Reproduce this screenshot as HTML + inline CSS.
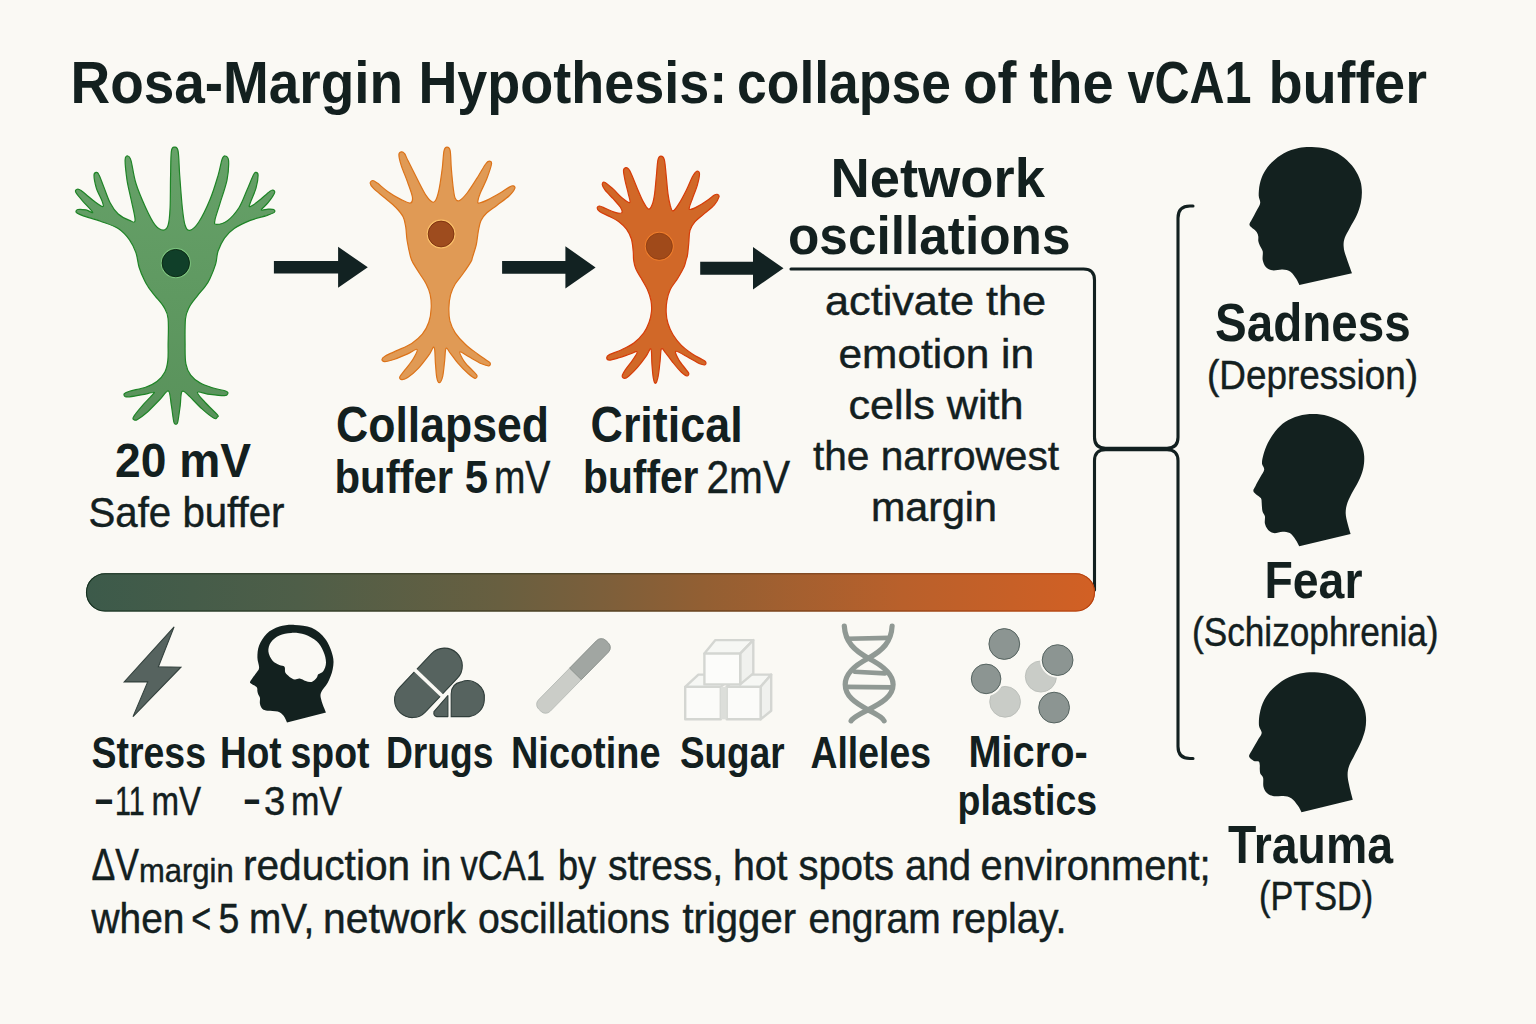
<!DOCTYPE html>
<html lang="en"><head><meta charset="utf-8"><title>Rosa-Margin Hypothesis</title>
<style>
html,body{margin:0;padding:0;background:#faf9f4;}
body{width:1536px;height:1024px;overflow:hidden;}
svg{display:block;position:absolute;left:0;top:0;}
svg text{font-family:"Liberation Sans",sans-serif;fill:#13201f;}
</style></head><body>
<svg width="1536" height="1024" viewBox="0 0 1536 1024">
<defs>
<linearGradient id="bar" x1="0" y1="0" x2="1" y2="0">
<stop offset="0" stop-color="#3c5a4a"/><stop offset="0.21" stop-color="#4e5e48"/><stop offset="0.41" stop-color="#685f40"/><stop offset="0.51" stop-color="#7c5f3b"/><stop offset="0.61" stop-color="#925f33"/><stop offset="0.81" stop-color="#b9602b"/><stop offset="1" stop-color="#d26024"/>
</linearGradient>
<linearGradient id="barS" x1="0" y1="0" x2="1" y2="0">
<stop offset="0" stop-color="#14301f"/><stop offset="0.5" stop-color="#3a3216"/><stop offset="1" stop-color="#b8400c"/>
</linearGradient>
<linearGradient id="gr" x1="0" y1="0" x2="0" y2="1"><stop offset="0" stop-color="#66a168"/><stop offset="1" stop-color="#59925b"/></linearGradient>
</defs>
<rect width="1536" height="1024" fill="#faf9f4"/>
<path d="M174.6 147.1C175.7 147.1 177.3 146.4 178.1 151.1C179.0 155.8 179.0 165.9 179.7 175.3C180.4 184.7 181.4 199.2 182.3 207.5C183.2 215.8 183.8 221.4 185.1 225.2C186.3 229.1 187.6 230.9 189.9 230.4C192.2 229.9 195.4 227.2 198.8 222.0C202.1 216.9 206.8 207.3 210.0 199.5C213.3 191.7 216.1 182.0 218.1 175.3C220.1 168.6 220.9 162.4 222.1 159.2C223.3 156.0 224.3 155.7 225.4 156.0C226.4 156.2 228.3 156.8 228.6 160.8C228.8 164.8 228.4 172.9 227.0 180.1C225.5 187.4 221.7 197.6 219.7 204.3C217.7 211.0 215.4 217.1 214.9 220.4C214.3 223.8 214.3 224.4 216.5 224.4C218.6 224.4 224.0 223.2 227.8 220.4C231.5 217.6 235.8 212.6 239.1 207.5C242.3 202.4 244.7 195.3 247.1 189.8C249.5 184.3 252.1 177.4 253.6 174.5C255.0 171.6 255.2 172.3 256.0 172.4C256.7 172.5 258.1 172.7 258.1 175.3C258.1 177.9 257.3 183.6 256.0 188.2C254.7 192.7 251.4 199.6 250.3 202.7C249.3 205.8 248.5 207.0 249.9 206.7C251.2 206.4 255.1 203.6 258.4 201.1C261.7 198.5 267.3 193.2 269.7 191.4C272.1 189.6 272.1 189.8 272.9 190.1C273.7 190.4 275.3 190.9 274.5 193.0C273.7 195.1 270.3 199.9 268.1 202.7C265.9 205.5 261.3 208.9 261.3 209.9C261.3 211.0 266.0 209.2 268.1 209.1C270.1 209.1 272.7 208.9 273.7 209.5C274.7 210.0 275.4 211.3 274.2 212.4C273.0 213.4 270.4 214.2 266.5 215.6C262.5 216.9 255.7 218.3 250.3 220.4C245.0 222.6 238.5 225.5 234.2 228.5C229.9 231.4 227.2 234.4 224.5 238.1C221.9 241.9 219.6 246.7 218.1 251.0C216.6 255.3 217.0 259.4 215.7 263.9C214.3 268.5 211.8 274.7 210.0 278.4C208.3 282.2 207.4 283.5 205.2 286.4C203.1 289.4 199.8 292.6 197.2 296.1C194.5 299.6 191.0 303.6 189.1 307.4C187.2 311.2 186.2 312.5 185.5 318.7C184.9 324.9 185.0 336.9 185.1 344.5C185.1 352.0 184.9 358.7 185.9 363.8C186.8 368.9 188.3 371.9 190.7 375.1C193.1 378.3 196.6 381.0 200.4 383.1C204.1 385.3 209.0 386.6 213.3 388.0C217.6 389.3 223.7 390.3 226.2 391.2C228.6 392.1 228.0 392.9 227.8 393.6C227.5 394.4 227.5 395.6 224.5 395.7C221.6 395.8 214.6 395.0 210.0 394.4C205.5 393.9 198.3 391.0 197.5 392.3C196.7 393.7 201.9 398.8 205.2 402.5C208.5 406.2 215.3 412.2 217.3 414.6C219.3 417.0 217.8 416.4 217.3 417.0C216.8 417.6 216.6 419.6 214.1 418.3C211.5 416.9 206.1 412.6 202.0 408.9C197.8 405.2 192.4 398.9 189.1 396.0C185.8 393.1 183.5 389.9 182.0 391.5C180.5 393.1 180.9 400.7 180.2 405.7C179.5 410.8 178.5 418.7 177.8 421.8C177.1 424.9 176.5 424.2 175.9 424.2C175.2 424.2 174.5 424.9 173.8 421.8C173.0 418.7 172.3 410.9 171.4 405.7C170.5 400.5 170.3 392.0 168.5 390.9C166.6 389.8 163.6 395.7 160.1 399.3C156.5 402.8 151.0 408.8 147.2 412.2C143.4 415.5 139.7 418.1 137.5 419.4C135.4 420.7 135.0 420.3 134.3 419.9C133.6 419.5 132.2 419.3 133.5 417.0C134.8 414.6 139.1 409.5 142.4 405.7C145.6 401.9 151.0 396.6 152.8 394.4C154.7 392.2 155.1 392.4 153.3 392.5C151.6 392.5 146.3 394.0 142.4 394.7C138.4 395.5 132.4 396.6 129.5 396.8C126.6 397.1 125.8 396.9 125.0 396.4C124.1 395.8 123.6 394.5 124.3 393.6C125.1 392.8 125.9 392.3 129.5 391.2C133.0 390.1 141.0 388.8 145.6 387.2C150.1 385.6 153.6 384.1 156.9 381.5C160.1 379.0 163.1 375.4 164.9 371.9C166.7 368.4 167.3 365.1 167.8 360.6C168.4 356.0 168.1 351.4 168.1 344.5C168.2 337.5 168.8 324.9 168.1 318.7C167.5 312.5 166.3 311.2 164.1 307.4C162.0 303.6 157.9 299.5 155.2 296.1C152.6 292.8 150.3 289.9 148.5 287.3C146.7 284.6 145.8 283.4 144.3 280.0C142.7 276.7 140.5 271.7 139.1 267.2C137.7 262.6 137.5 257.2 135.9 252.6C134.3 248.1 132.4 243.8 129.5 239.8C126.5 235.7 123.0 231.6 118.2 228.5C113.3 225.4 106.4 223.4 100.5 221.2C94.5 219.1 86.8 217.1 82.7 215.6C78.7 214.1 77.1 213.4 76.3 212.4C75.5 211.3 76.3 209.9 77.9 209.5C79.5 209.1 83.5 209.5 86.0 209.9C88.4 210.4 93.3 213.8 92.7 212.4C92.2 210.9 85.5 204.4 82.7 201.1C79.9 197.7 76.7 194.2 75.8 192.2C74.9 190.3 76.2 189.6 77.1 189.3C78.0 189.0 78.3 188.6 81.1 190.6C83.9 192.6 90.4 198.4 94.0 201.1C97.6 203.8 101.4 206.7 102.7 206.7C104.1 206.7 103.1 204.2 102.1 201.1C101.0 198.0 97.8 192.5 96.4 188.2C95.1 183.9 94.0 177.9 94.0 175.3C94.0 172.7 95.6 172.5 96.4 172.4C97.2 172.3 97.6 172.1 98.8 174.5C100.1 176.8 101.8 181.9 103.7 186.6C105.6 191.3 107.7 198.1 110.1 202.7C112.5 207.3 115.0 211.0 118.2 214.0C121.4 216.9 126.6 219.3 129.5 220.4C132.3 221.5 134.8 223.9 135.1 220.4C135.4 216.9 132.4 206.2 131.1 199.5C129.7 192.7 128.0 186.7 127.0 180.1C126.1 173.5 125.0 164.0 125.1 160.0C125.2 156.0 126.9 155.8 127.9 156.0C128.8 156.1 129.7 156.2 131.1 160.8C132.4 165.4 133.5 175.6 135.9 183.3C138.3 191.1 142.4 200.5 145.6 207.5C148.8 214.5 152.3 221.5 155.2 225.2C158.2 229.0 161.2 230.1 163.3 230.1C165.5 230.1 167.0 229.0 168.1 225.2C169.3 221.5 169.7 215.8 170.1 207.5C170.5 199.2 170.3 184.7 170.6 175.3C170.8 165.9 170.7 155.8 171.4 151.1C172.0 146.4 173.5 147.1 174.6 147.1Z" fill="url(#gr)" stroke="#1e8426" stroke-width="1.2" stroke-linejoin="round"/>
<circle cx="175.8" cy="263.1" r="15.1" fill="#7cc57f"/><circle cx="175.8" cy="263.1" r="13.7" fill="#103f29" stroke="#07230f" stroke-width="0.9"/>
<path d="M447.0 147.1C448.1 147.1 449.5 147.4 450.2 150.8C450.9 154.3 450.8 161.8 451.3 168.0C451.8 174.1 452.6 182.7 453.2 187.7C453.9 192.8 454.2 196.1 455.2 198.3C456.2 200.5 457.2 201.6 459.2 200.7C461.2 199.8 464.0 196.9 467.1 193.0C470.2 189.1 474.6 182.0 477.6 177.2C480.7 172.4 483.6 166.7 485.6 164.0C487.5 161.3 488.3 161.1 489.2 161.1C490.2 161.1 491.9 161.1 491.5 164.0C491.1 166.9 488.7 173.7 486.9 178.5C485.0 183.4 481.8 189.3 480.3 193.0C478.8 196.8 478.1 199.3 477.9 200.9C477.7 202.6 477.5 203.3 479.2 203.0C480.9 202.8 484.7 201.3 488.2 199.6C491.7 197.9 496.5 195.1 500.1 193.0C503.6 190.9 507.1 188.3 509.3 187.1C511.5 185.9 512.3 185.6 513.2 185.8C514.2 186.0 515.5 186.8 514.8 188.4C514.2 190.1 512.2 192.9 509.3 195.7C506.4 198.4 501.2 202.0 497.4 204.9C493.7 207.8 489.6 210.2 486.9 212.8C484.1 215.4 482.4 217.6 480.9 220.7C479.5 223.8 479.1 227.3 478.3 231.3C477.5 235.2 477.3 240.1 476.3 244.5C475.3 248.9 473.2 254.8 472.4 257.6C471.5 260.5 472.6 259.0 471.0 261.6C469.5 264.2 465.8 269.7 463.1 273.5C460.5 277.2 457.3 280.5 455.2 284.0C453.1 287.5 451.7 290.6 450.6 294.6C449.6 298.5 449.0 303.4 448.9 307.7C448.8 312.1 448.9 316.8 449.9 320.9C451.0 325.1 452.6 328.8 455.2 332.8C457.9 336.8 462.0 341.2 465.8 344.7C469.5 348.2 474.1 351.3 477.6 353.9C481.2 356.5 484.8 359.0 486.9 360.5C489.0 362.0 489.8 362.3 490.2 363.1C490.5 364.0 490.3 365.7 488.9 365.8C487.4 365.9 485.0 365.3 481.6 363.8C478.2 362.3 472.0 358.5 468.4 356.5C464.8 354.6 460.5 351.0 459.8 351.9C459.2 352.8 462.1 358.5 464.5 361.8C466.8 365.1 471.6 369.4 473.7 371.7C475.8 374.0 476.8 374.6 477.0 375.7C477.2 376.8 476.4 378.6 475.0 378.3C473.6 378.0 471.3 376.2 468.4 373.7C465.6 371.2 460.9 366.7 457.9 363.1C454.8 359.6 451.9 355.0 449.9 352.6C448.0 350.1 446.9 347.0 446.0 348.4C445.1 349.7 445.2 355.8 444.7 360.5C444.1 365.2 443.6 372.6 442.7 376.3C441.8 380.0 440.4 382.4 439.4 382.7C438.4 382.9 437.4 380.9 436.8 377.6C436.1 374.4 435.9 368.2 435.4 363.1C435.0 358.1 435.2 348.6 434.1 347.3C433.0 346.0 431.5 351.7 428.8 355.2C426.2 358.7 421.8 364.7 418.3 368.4C414.8 372.1 410.5 375.8 407.7 377.6C405.0 379.5 403.1 379.7 401.8 379.6C400.5 379.5 399.3 378.6 399.8 377.0C400.4 375.3 402.9 372.7 405.1 369.7C407.3 366.8 411.0 362.6 413.0 359.2C415.0 355.8 417.9 350.3 417.0 349.4C416.1 348.5 411.5 352.3 407.7 353.9C404.0 355.5 398.4 357.9 394.6 359.2C390.7 360.5 386.8 361.6 384.7 361.6C382.6 361.6 381.9 360.1 382.0 359.2C382.1 358.2 382.6 357.4 385.3 355.9C388.1 354.3 394.1 352.0 398.5 349.9C402.9 347.9 407.7 346.0 411.7 343.4C415.7 340.7 419.4 337.6 422.3 334.1C425.1 330.6 427.4 326.7 428.8 322.3C430.3 317.9 431.0 312.4 431.2 307.7C431.4 303.1 431.0 298.5 430.2 294.6C429.3 290.6 428.0 287.5 426.2 284.0C424.5 280.5 421.8 277.0 419.6 273.5C417.4 269.9 414.6 265.8 413.0 262.9C411.5 260.1 411.4 260.1 410.4 256.3C409.4 252.6 407.9 245.3 407.1 240.5C406.3 235.7 406.4 231.3 405.8 227.3C405.1 223.4 404.8 220.1 403.1 216.8C401.5 213.5 398.8 210.6 395.9 207.5C392.9 204.5 389.1 201.5 385.3 198.3C381.6 195.1 376.0 190.9 373.5 188.4C370.9 185.9 370.3 184.5 370.2 183.1C370.1 181.8 371.6 180.5 372.8 180.5C374.0 180.5 374.9 181.3 377.4 183.1C379.9 185.0 384.0 189.0 388.0 191.7C391.9 194.5 397.4 197.7 401.2 199.6C404.9 201.5 408.5 203.5 410.4 203.0C412.3 202.6 412.8 200.4 412.4 197.0C411.9 193.6 409.6 187.7 407.7 182.5C405.9 177.2 402.6 169.9 401.2 165.3C399.7 160.7 398.9 157.0 398.9 154.8C398.9 152.5 400.2 152.1 401.2 151.9C402.1 151.7 403.4 152.1 404.5 153.5C405.6 154.8 405.7 155.9 407.7 160.1C409.8 164.2 413.9 172.6 417.0 178.5C420.1 184.5 423.6 191.7 426.2 195.7C428.8 199.6 431.2 201.6 432.8 202.3C434.5 202.9 435.0 202.0 436.1 199.6C437.2 197.2 438.4 193.0 439.4 187.7C440.4 182.5 441.5 174.1 442.3 168.0C443.1 161.8 443.2 154.3 444.0 150.8C444.8 147.4 446.0 147.1 447.0 147.1Z" fill="#e09a55" stroke="#dc7319" stroke-width="1.2" stroke-linejoin="round"/>
<circle cx="441.1" cy="234" r="14.4" fill="#fbc069"/><circle cx="441.1" cy="234" r="12.9" fill="#9e4c1e" stroke="#7c2e0d" stroke-width="0.9"/>
<path d="M660.9 156.2C662.0 156.2 663.5 156.4 664.3 159.6C665.2 162.9 665.6 169.8 666.2 175.5C666.8 181.2 667.3 188.7 668.0 193.8C668.7 198.9 669.6 203.2 670.4 206.0C671.3 208.9 671.7 211.3 673.1 210.9C674.6 210.5 676.8 207.1 679.0 203.6C681.2 200.1 684.1 194.6 686.3 190.2C688.6 185.7 690.7 179.9 692.4 176.7C694.2 173.6 695.5 171.8 696.7 171.2C697.9 170.7 699.4 171.3 699.5 173.7C699.6 176.0 698.5 181.1 697.3 185.3C696.1 189.5 693.7 195.0 692.4 198.7C691.1 202.4 689.7 205.5 689.4 207.3C689.0 209.0 688.9 209.6 690.2 209.5C691.5 209.4 694.5 208.1 697.3 206.6C700.1 205.2 704.2 202.5 707.1 200.5C709.9 198.6 712.7 196.1 714.4 195.0C716.1 194.0 716.7 194.1 717.4 194.4C718.2 194.7 719.5 195.2 719.0 196.9C718.5 198.6 716.8 202.1 714.4 204.8C712.0 207.6 707.9 210.5 704.6 213.4C701.4 216.2 697.3 219.1 694.9 221.9C692.4 224.8 691.0 227.0 690.0 230.4C689.0 233.9 689.2 238.6 688.8 242.7C688.4 246.7 688.0 252.0 687.5 254.9C687.1 257.8 686.7 257.9 686.1 260.0C685.5 262.1 685.3 264.3 683.9 267.3C682.5 270.4 680.0 274.6 677.8 278.3C675.5 282.0 672.2 285.6 670.4 289.3C668.7 293.0 667.7 296.4 667.0 300.3C666.3 304.1 666.0 308.6 666.2 312.5C666.3 316.4 666.9 319.8 668.0 323.5C669.1 327.1 670.7 330.8 672.9 334.5C675.1 338.1 678.2 342.2 681.4 345.4C684.7 348.7 689.0 351.7 692.4 354.0C695.9 356.3 700.0 358.2 702.2 359.5C704.4 360.8 705.1 361.1 705.6 361.9C706.1 362.8 706.2 364.4 705.2 364.7C704.3 365.0 702.5 364.9 699.7 363.8C697.0 362.6 692.7 359.7 688.8 357.7C684.8 355.6 677.6 350.9 675.9 351.3C674.3 351.7 677.3 357.0 679.0 360.1C680.7 363.2 684.7 367.6 686.3 369.9C687.9 372.1 688.7 372.5 688.8 373.5C688.9 374.5 688.1 376.2 686.9 376.0C685.7 375.8 683.8 374.5 681.4 372.3C679.1 370.1 675.5 365.8 672.9 362.5C670.2 359.3 667.5 355.1 665.6 352.8C663.7 350.5 662.3 347.4 661.4 348.9C660.5 350.3 660.6 356.8 660.1 361.3C659.5 365.8 659.0 372.3 658.2 376.0C657.5 379.6 656.4 382.9 655.6 383.3C654.7 383.7 654.0 381.7 653.4 378.4C652.7 375.2 652.3 368.7 651.9 363.8C651.5 358.8 651.9 350.1 650.9 348.9C649.9 347.6 648.3 353.3 646.0 356.4C643.8 359.5 640.3 364.2 637.5 367.4C634.6 370.7 631.1 374.1 628.9 376.0C626.8 377.8 625.8 378.4 624.7 378.4C623.6 378.4 622.1 377.4 622.2 376.0C622.3 374.5 623.6 372.5 625.3 369.9C627.0 367.2 630.6 363.1 632.6 360.1C634.6 357.1 637.7 352.8 637.2 351.8C636.8 350.8 633.2 353.0 630.2 354.0C627.2 355.0 622.6 356.6 619.2 357.7C615.7 358.7 611.5 360.1 609.4 360.1C607.3 360.1 606.7 358.6 606.7 357.7C606.7 356.7 606.9 355.9 609.4 354.6C611.9 353.3 617.6 351.7 621.6 349.7C625.7 347.8 630.2 345.8 633.8 343.0C637.5 340.3 641.1 336.7 643.6 333.2C646.1 329.8 647.8 325.9 649.1 322.3C650.4 318.6 651.2 314.9 651.5 311.3C651.8 307.6 651.6 303.9 650.9 300.3C650.2 296.6 648.9 293.0 647.3 289.3C645.6 285.6 643.1 281.8 641.2 278.3C639.2 274.9 636.9 271.6 635.7 268.5C634.4 265.5 634.0 262.9 633.6 260.0C633.2 257.1 633.6 254.7 633.2 251.2C632.9 247.7 632.5 242.7 631.4 239.0C630.3 235.3 628.5 232.1 626.5 229.2C624.5 226.4 622.0 224.0 619.2 221.9C616.3 219.8 612.7 218.1 609.4 216.4C606.2 214.7 601.7 213.0 599.6 211.5C597.6 210.1 597.2 208.8 597.2 207.9C597.2 207.0 598.2 205.9 599.6 206.0C601.1 206.1 603.3 207.5 605.8 208.5C608.2 209.5 611.7 211.4 614.3 212.1C616.9 212.9 620.6 213.7 621.6 212.9C622.6 212.1 621.8 209.6 620.4 207.3C619.0 204.9 615.6 201.6 613.1 198.7C610.5 195.9 606.9 192.5 605.1 190.2C603.4 187.8 602.4 186.0 602.3 184.7C602.2 183.4 602.7 181.5 604.5 182.2C606.3 182.9 610.2 186.4 613.1 188.9C615.9 191.5 618.9 195.2 621.6 197.5C624.4 199.8 628.6 203.2 629.7 202.6C630.8 202.0 629.1 197.3 628.3 193.8C627.6 190.3 626.1 185.5 625.3 181.6C624.5 177.8 623.4 173.0 623.5 170.6C623.6 168.3 625.0 167.8 625.9 167.6C626.8 167.4 627.9 168.1 628.9 169.4C630.0 170.7 630.6 172.3 632.0 175.5C633.4 178.8 635.6 184.5 637.5 188.9C639.4 193.4 641.8 199.0 643.6 202.4C645.4 205.7 647.1 208.7 648.5 209.1C649.9 209.5 651.1 207.4 652.1 204.8C653.2 202.3 653.9 198.7 654.6 193.8C655.3 188.9 655.8 181.2 656.4 175.5C657.0 169.8 657.2 162.9 658.0 159.6C658.8 156.4 659.9 156.2 660.9 156.2Z" fill="#d16828" stroke="#d63c08" stroke-width="1.2" stroke-linejoin="round"/>
<circle cx="659.3" cy="246.3" r="14.5" fill="#ee7d2c"/><circle cx="659.3" cy="246.3" r="13.1" fill="#a04a1a" stroke="#8a3a10" stroke-width="0.8"/>
<path d="M273.9 261.0H338.1V246.8L367.8 267.3L338.1 287.8V273.6H273.9Z" fill="#122222"/>
<path d="M502.1 261.1H565.4V246.3L595.6 267.4L565.4 288.5V273.7H502.1Z" fill="#122222"/>
<path d="M700.2 261.8H753.0V247.1L783.5 268.3L753.0 289.5V274.8H700.2Z" fill="#122222"/>
<g fill="none" stroke="#122020" stroke-width="3.1" stroke-linecap="round">
<path d="M791 269H1083.5Q1094.5 269 1094.5 280.0V437.2Q1094.5 448.2 1105.5 448.2H1167.0Q1178 448.2 1178 437.2V218.0Q1178 206 1190.0 206H1193"/>
<path d="M1094.5 590V460.8Q1094.5 449.8 1105.5 449.8H1167.0Q1178 449.8 1178 460.8V746.5Q1178 758.5 1190.0 758.5H1193"/>
</g>
<rect x="86" y="573.2" width="1009" height="38.3" rx="19.15" fill="url(#bar)"/>
<rect x="86.5" y="573.7" width="1008" height="37.3" rx="18.6" fill="none" stroke="url(#barS)" stroke-width="1.1"/>
<path d="M1299.3 285.0C1298.8 284.0 1297.8 281.3 1296.4 279.1C1294.9 276.9 1292.8 273.4 1290.5 271.8C1288.2 270.2 1285.5 269.8 1282.5 269.6C1279.4 269.4 1275.0 270.8 1272.2 270.3C1269.4 269.8 1267.2 268.4 1265.6 266.7C1264.0 265.0 1263.2 262.6 1262.7 260.1C1262.2 257.5 1263.2 253.7 1262.7 251.3C1262.2 248.8 1260.5 247.1 1259.8 245.4C1259.0 243.7 1258.5 242.5 1258.3 241.0C1258.1 239.6 1258.5 238.1 1258.3 236.6C1258.1 235.2 1257.6 233.5 1256.8 232.3C1256.1 231.0 1255.1 230.5 1253.9 229.3C1252.7 228.1 1249.9 226.5 1249.5 224.9C1249.2 223.3 1250.5 222.2 1251.7 219.8C1252.9 217.4 1255.4 213.1 1256.8 210.3C1258.3 207.5 1259.9 205.4 1260.2 203.0C1260.5 200.5 1258.8 198.8 1258.7 195.6C1258.7 192.5 1258.9 187.8 1259.8 183.9C1260.7 180.0 1262.1 175.9 1264.2 172.2C1266.2 168.6 1268.9 165.1 1272.2 162.0C1275.5 158.8 1279.5 155.5 1283.9 153.2C1288.3 150.9 1293.9 149.1 1298.6 148.1C1303.2 147.0 1307.1 146.9 1311.8 147.0C1316.4 147.2 1321.5 147.4 1326.4 148.8C1331.3 150.2 1336.8 152.6 1341.0 155.4C1345.3 158.2 1349.0 161.8 1352.0 165.6C1355.1 169.4 1357.7 174.0 1359.3 178.1C1361.0 182.1 1361.6 185.6 1361.8 189.8C1362.1 193.9 1361.7 198.6 1360.8 203.0C1359.9 207.4 1358.2 212.0 1356.4 216.1C1354.6 220.3 1351.8 224.2 1349.8 227.9C1347.9 231.5 1345.7 234.9 1344.7 238.1C1343.7 241.3 1343.4 243.7 1343.7 246.9C1343.9 250.1 1344.8 252.8 1346.2 257.1C1347.6 261.5 1351.0 270.6 1352.0 273.3Z" fill="#13211f"/>
<path d="M1299.3 546.3C1298.7 545.2 1297.2 541.9 1295.6 539.7C1294.1 537.5 1292.0 534.5 1289.8 533.1C1287.6 531.8 1285.2 531.7 1282.5 531.7C1279.8 531.7 1276.1 533.5 1273.7 533.1C1271.2 532.8 1269.3 531.1 1267.8 529.5C1266.4 527.9 1265.4 525.8 1264.9 523.6C1264.4 521.4 1265.3 518.2 1264.9 516.3C1264.5 514.3 1263.2 513.4 1262.7 511.9C1262.2 510.4 1262.1 509.0 1262.0 507.5C1261.8 506.0 1261.8 504.6 1261.7 503.1C1261.6 501.6 1261.7 499.8 1261.2 498.7C1260.8 497.6 1260.3 497.7 1259.0 496.5C1257.7 495.3 1254.1 493.1 1253.5 491.4C1252.9 489.7 1254.2 488.7 1255.4 486.3C1256.5 483.8 1259.0 479.6 1260.5 476.8C1262.0 473.9 1263.9 471.6 1264.2 469.4C1264.4 467.2 1262.1 466.0 1262.0 463.6C1261.8 461.1 1262.5 458.2 1263.4 454.8C1264.4 451.4 1265.9 447.0 1267.8 443.1C1269.8 439.2 1272.2 434.9 1275.1 431.4C1278.1 427.8 1281.5 424.4 1285.4 421.8C1289.3 419.3 1293.9 417.3 1298.6 416.0C1303.2 414.7 1308.3 414.1 1313.2 414.1C1318.1 414.1 1323.0 414.6 1327.9 416.0C1332.7 417.4 1338.1 419.8 1342.5 422.6C1346.9 425.4 1351.0 429.2 1354.2 432.8C1357.4 436.5 1359.9 440.6 1361.5 444.5C1363.2 448.4 1363.9 452.1 1364.2 456.3C1364.4 460.4 1364.1 465.0 1363.0 469.4C1362.0 473.8 1359.8 478.5 1357.9 482.6C1355.9 486.8 1353.1 490.7 1351.3 494.3C1349.5 498.0 1347.8 501.4 1346.9 504.6C1346.0 507.7 1345.6 510.2 1345.7 513.4C1345.8 516.5 1346.8 520.2 1347.6 523.6C1348.4 527.0 1350.1 532.2 1350.6 533.9Z" fill="#13211f"/>
<path d="M1301.5 812.2C1300.9 811.1 1299.5 807.9 1297.8 805.6C1296.1 803.3 1293.7 799.8 1291.3 798.3C1288.8 796.7 1286.2 796.4 1283.2 796.1C1280.1 795.7 1275.8 796.7 1272.9 796.1C1270.1 795.4 1267.9 794.0 1266.4 792.4C1264.8 790.8 1264.0 789.0 1263.4 786.5C1262.9 784.1 1263.6 779.8 1263.1 777.8C1262.6 775.7 1261.1 775.4 1260.5 774.1C1259.9 772.8 1259.9 771.2 1259.8 769.7C1259.6 768.2 1259.9 766.6 1259.8 765.3C1259.6 764.0 1259.7 762.4 1258.7 761.6C1257.8 760.9 1255.5 761.8 1253.9 760.9C1252.3 760.1 1249.4 758.2 1249.1 756.5C1248.7 754.8 1250.3 753.3 1251.7 750.7C1253.1 748.0 1255.9 743.3 1257.6 740.4C1259.2 737.5 1261.4 735.5 1261.7 733.1C1261.9 730.7 1259.4 729.1 1259.0 725.8C1258.7 722.5 1258.9 717.6 1259.8 713.3C1260.6 709.1 1262.0 704.3 1264.2 700.1C1266.4 696.0 1269.4 692.0 1272.9 688.4C1276.5 684.9 1280.9 681.4 1285.4 678.9C1289.9 676.4 1295.2 674.6 1300.0 673.5C1304.9 672.4 1309.8 672.2 1314.7 672.3C1319.6 672.5 1324.4 673.1 1329.3 674.5C1334.2 676.0 1339.6 678.2 1344.0 681.1C1348.4 684.0 1352.5 688.2 1355.7 692.1C1358.9 696.0 1361.3 700.5 1363.0 704.5C1364.7 708.6 1365.6 712.1 1365.9 716.3C1366.3 720.4 1366.1 725.0 1365.2 729.4C1364.3 733.8 1362.6 738.2 1360.8 742.6C1359.0 747.0 1356.2 751.9 1354.2 755.8C1352.3 759.7 1350.2 762.9 1349.1 766.0C1348.0 769.2 1347.6 771.7 1347.6 774.8C1347.6 778.0 1348.2 780.9 1349.1 785.1C1349.9 789.2 1352.1 797.3 1352.8 799.7Z" fill="#13211f"/>
<path d="M174.1 626.9L158.4 666.7L180.9 667.2L133.0 716.6L147.7 681.9L124.2 681.9Z" fill="#56635f" stroke="#33413d" stroke-width="1.1" stroke-linejoin="miter"/>
<path d="M287.0 722.6C286.5 721.4 285.2 717.6 283.6 715.8C282.1 714.0 280.4 712.4 277.7 711.6C275.0 710.7 270.1 711.1 267.6 710.7C265.0 710.3 263.8 710.1 262.5 709.0C261.2 707.9 260.4 705.8 260.0 703.9C259.5 702.1 260.2 699.6 260.0 698.0C259.7 696.5 258.7 695.8 258.3 694.6C257.8 693.5 257.7 692.5 257.4 691.2C257.1 690.0 257.8 688.4 256.6 687.0C255.4 685.7 251.2 684.4 250.3 683.1C249.5 681.9 250.4 681.1 251.5 679.4C252.5 677.6 255.3 674.6 256.6 672.6C257.8 670.7 259.0 670.1 259.1 667.5C259.2 665.0 257.4 661.1 257.4 657.4C257.4 653.7 257.6 649.5 259.1 645.5C260.7 641.6 263.3 636.9 266.7 633.7C270.1 630.5 274.8 628.1 279.4 626.6C284.1 625.1 289.3 624.7 294.7 624.9C300.0 625.1 306.5 625.5 311.6 627.8C316.7 630.1 321.6 634.1 325.1 638.8C328.6 643.4 331.5 650.6 332.7 655.7C334.0 660.8 333.6 664.7 332.7 669.2C331.9 673.8 329.6 678.8 327.7 682.8C325.7 686.7 321.9 689.8 320.9 692.9C319.9 696.0 320.9 698.2 321.7 701.4C322.6 704.6 325.3 710.6 326.0 712.4Z" fill="#13211f"/>
<path d="M268.4 651.5C268.1 648.4 269.1 644.8 271.0 642.2C272.8 639.5 276.0 636.9 279.4 635.4C282.8 633.8 287.0 633.0 291.3 632.9C295.5 632.7 300.6 633.1 304.8 634.5C309.0 636.0 313.6 638.5 316.7 641.3C319.8 644.1 321.9 647.9 323.4 651.5C325.0 655.0 326.0 659.2 326.0 662.5C326.0 665.7 324.7 669.0 323.4 670.9C322.2 672.9 319.5 673.2 318.3 674.3C317.2 675.4 317.8 676.4 316.7 677.7C315.5 679.0 313.4 681.4 311.6 681.9C309.7 682.5 307.6 681.7 305.7 681.1C303.7 680.5 301.6 678.8 299.7 678.6C297.9 678.3 296.3 679.7 294.7 679.4C293.0 679.1 291.1 678.0 289.6 676.9C288.0 675.7 286.2 674.3 285.3 672.6C284.5 670.9 285.5 668.0 284.5 666.7C283.5 665.4 281.4 666.0 279.4 665.0C277.4 664.0 274.5 663.0 272.6 660.8C270.8 658.5 268.7 654.6 268.4 651.5Z" fill="#faf9f4"/>
<g transform="translate(444.5 665.9) rotate(133.5)">
<rect x="-17.8" y="-17.8" width="82.3" height="35.6" rx="17.8" fill="#56635f" stroke="#2f3d3a" stroke-width="1.1"/>
<rect x="21.5" y="-19.8" width="3.6" height="39.6" fill="#faf9f4"/>
</g>
<path d="M451.2 716.6V693.9Q451.2 683.9 461.2 681.9A17 17 0 0 1 484.3 699.9A17.5 17.5 0 0 1 469.2 716.6Z" fill="#56635f" stroke="#2f3d3a" stroke-width="1.1"/>
<path d="M447.9 695.5L434.0 711.6Q433.2 716.0 436.7 716.6L447.9 716.6Z" fill="#56635f" stroke="#2f3d3a" stroke-width="1.1" stroke-linejoin="round"/>
<g transform="translate(539.8 710.2) rotate(-45.5)">
<rect x="0" y="-8.2" width="96.0" height="16.4" rx="6.5" fill="#cbcdc8" stroke="#b4b8b3" stroke-width="0.8"/>
<path d="M50.9 -8.2H89.5A6.5 6.5 0 0 1 96.0 -1.7V1.7A6.5 6.5 0 0 1 89.5 8.2H50.9Z" fill="#a1a6a2" stroke="#8b918d" stroke-width="0.8"/>
</g>
<g stroke="#d4d6d2" stroke-width="2.4" stroke-linejoin="round">
<path d="M685.2 686.9L698.4 674.6L734.3 674.6L720.8 686.9Z" fill="#f6f7f4"/>
<path d="M685.2 686.9L720.8 686.9L720.8 719.3L685.2 719.3Z" fill="#fbfbf9"/>
<path d="M726.7 686.9L738.6 674.6L771.2 674.6L760.6 686.9Z" fill="#f6f7f4"/>
<path d="M760.6 686.9L771.2 674.6L771.2 710.8L760.6 719.3Z" fill="#f0f1ee"/>
<path d="M726.7 686.9L760.6 686.9L760.6 719.3L726.7 719.3Z" fill="#fbfbf9"/>
<path d="M720.8 686.9L726.7 686.9L726.7 719.3L720.8 719.3Z" fill="#dcdeda" stroke="none"/>
<path d="M704.4 653.6L715.4 640.1L753.3 640.1L740.2 653.6Z" fill="#f6f7f4"/>
<path d="M740.2 653.6L753.3 640.1L753.3 673.4L740.2 684.4Z" fill="#f0f1ee"/>
<path d="M704.4 653.6L740.2 653.6L740.2 684.4L704.4 684.4Z" fill="#fcfcfa"/>
</g>
<g fill="none" stroke="#909994" stroke-width="5.2" stroke-linecap="round">
<path d="M844.3 626.0C845.2 642.1 854.5 650.5 868.4 658.2C883.3 665.8 893.1 674.2 893.1 684.4C893.1 696.2 881.6 703.0 868.0 709.8C859.6 714.0 852.8 717.4 851.1 720.8"/>
<path d="M892.1 626.0C891.4 642.1 882.4 650.5 868.4 658.2C853.6 665.8 845.2 674.2 845.2 684.4C845.2 696.2 855.3 703.0 868.0 709.8C876.5 714.0 882.9 717.4 884.1 720.8"/>
<path d="M847.7 638.7L889.2 637.9" stroke-width="4.6"/>
<path d="M854.5 671.7L885.0 673.4" stroke-width="4.6"/>
<path d="M846.0 686.9L892.1 687.4" stroke-width="4.6"/>
</g>
<circle cx="1005.1" cy="701.8" r="15.4" fill="#c9ccc7" stroke="#b6bab5" stroke-width="0.8"/>
<circle cx="1040.9" cy="676.5" r="15.6" fill="#c9ccc7" stroke="#b6bab5" stroke-width="0.8"/>
<circle cx="1004.3" cy="644.0" r="16.4" fill="#8c9592" stroke="#faf9f4" stroke-width="2.4"/>
<circle cx="1004.3" cy="644.0" r="15.4" fill="#8c9592" stroke="#4f5d5a" stroke-width="0.9"/>
<circle cx="1057.6" cy="660.1" r="16.4" fill="#8c9592" stroke="#faf9f4" stroke-width="2.4"/>
<circle cx="1057.6" cy="660.1" r="15.4" fill="#8c9592" stroke="#4f5d5a" stroke-width="0.9"/>
<circle cx="986.1" cy="678.9" r="15.8" fill="#8c9592" stroke="#faf9f4" stroke-width="2.4"/>
<circle cx="986.1" cy="678.9" r="14.8" fill="#8c9592" stroke="#4f5d5a" stroke-width="0.9"/>
<circle cx="1054.1" cy="707.6" r="16.4" fill="#8c9592" stroke="#faf9f4" stroke-width="2.4"/>
<circle cx="1054.1" cy="707.6" r="15.4" fill="#8c9592" stroke="#4f5d5a" stroke-width="0.9"/>
<g id="labels">
<text><tspan x="70.5" y="102.6" font-size="58.6" font-weight="bold" textLength="332.6" lengthAdjust="spacingAndGlyphs">Rosa-Margin</tspan> <tspan x="418.4" y="102.6" font-size="58.6" font-weight="bold" textLength="308.7" lengthAdjust="spacingAndGlyphs">Hypothesis:</tspan> <tspan x="737.0" y="102.6" font-size="58.6" font-weight="bold" textLength="214.0" lengthAdjust="spacingAndGlyphs">collapse</tspan> <tspan x="962.9" y="102.6" font-size="58.6" font-weight="bold" textLength="53.6" lengthAdjust="spacingAndGlyphs">of</tspan> <tspan x="1029.5" y="102.6" font-size="58.6" font-weight="bold" textLength="84.1" lengthAdjust="spacingAndGlyphs">the</tspan> <tspan x="1127.5" y="102.6" font-size="58.6" font-weight="bold" textLength="124.0" lengthAdjust="spacingAndGlyphs">vCA1</tspan> <tspan x="1268.4" y="102.6" font-size="58.6" font-weight="bold" textLength="158.6" lengthAdjust="spacingAndGlyphs">buffer</tspan></text>
<text x="115.0" y="476.6" font-size="48.8" font-weight="bold" textLength="136.0" lengthAdjust="spacingAndGlyphs">20 mV</text>
<text x="88.5" y="526.7" font-size="42.6" font-weight="normal" stroke="#13201f" stroke-width="0.45" textLength="196.0" lengthAdjust="spacingAndGlyphs">Safe buffer</text>
<text x="336.0" y="441.6" font-size="50.7" font-weight="bold" textLength="213.1" lengthAdjust="spacingAndGlyphs">Collapsed</text>
<text><tspan x="334.5" y="493.4" font-size="46.4" font-weight="bold" textLength="153.6" lengthAdjust="spacingAndGlyphs">buffer 5</tspan> <tspan x="494.0" y="493.4" font-size="46.4" font-weight="normal" stroke="#13201f" stroke-width="0.45" textLength="56.5" lengthAdjust="spacingAndGlyphs">mV</tspan></text>
<text x="590.5" y="441.6" font-size="50.7" font-weight="bold" textLength="152.1" lengthAdjust="spacingAndGlyphs">Critical</text>
<text><tspan x="583.0" y="493.1" font-size="46.4" font-weight="bold" textLength="115.5" lengthAdjust="spacingAndGlyphs">buffer</tspan> <tspan x="706.5" y="493.1" font-size="46.4" font-weight="normal" stroke="#13201f" stroke-width="0.45" textLength="83.5" lengthAdjust="spacingAndGlyphs">2mV</tspan></text>
<text x="830.4" y="197.3" font-size="55.2" font-weight="bold" textLength="214.6" lengthAdjust="spacingAndGlyphs">Network</text>
<text x="788.0" y="253.5" font-size="54.3" font-weight="bold" textLength="282.5" lengthAdjust="spacingAndGlyphs">oscillations</text>
<text x="825.0" y="315.3" font-size="40.6" font-weight="normal" stroke="#13201f" stroke-width="0.45" textLength="221.0" lengthAdjust="spacingAndGlyphs">activate the</text>
<text x="838.5" y="367.5" font-size="40.6" font-weight="normal" stroke="#13201f" stroke-width="0.45" textLength="195.6" lengthAdjust="spacingAndGlyphs">emotion in</text>
<text x="848.5" y="419.0" font-size="40.6" font-weight="normal" stroke="#13201f" stroke-width="0.45" textLength="175.1" lengthAdjust="spacingAndGlyphs">cells with</text>
<text x="813.0" y="470.4" font-size="40.6" font-weight="normal" stroke="#13201f" stroke-width="0.45" textLength="246.0" lengthAdjust="spacingAndGlyphs">the narrowest</text>
<text x="870.9" y="521.0" font-size="40.6" font-weight="normal" stroke="#13201f" stroke-width="0.45" textLength="126.1" lengthAdjust="spacingAndGlyphs">margin</text>
<text x="1215.0" y="341.1" font-size="53.2" font-weight="bold" textLength="195.6" lengthAdjust="spacingAndGlyphs">Sadness</text>
<text x="1207.0" y="388.5" font-size="40.3" font-weight="normal" stroke="#13201f" stroke-width="0.45" textLength="211.0" lengthAdjust="spacingAndGlyphs">(Depression)</text>
<text x="1264.4" y="598.3" font-size="50.9" font-weight="bold" textLength="98.1" lengthAdjust="spacingAndGlyphs">Fear</text>
<text x="1192.0" y="645.8" font-size="40.6" font-weight="normal" stroke="#13201f" stroke-width="0.45" textLength="246.5" lengthAdjust="spacingAndGlyphs">(Schizophrenia)</text>
<text x="1228.0" y="862.8" font-size="52.8" font-weight="bold" textLength="165.0" lengthAdjust="spacingAndGlyphs">Trauma</text>
<text x="1259.0" y="910.0" font-size="40.3" font-weight="normal" stroke="#13201f" stroke-width="0.45" textLength="114.1" lengthAdjust="spacingAndGlyphs">(PTSD)</text>
<text x="91.5" y="767.6" font-size="44.2" font-weight="bold" textLength="114.5" lengthAdjust="spacingAndGlyphs">Stress</text>
<text><tspan x="220.0" y="767.6" font-size="43.5" font-weight="bold" textLength="61.6" lengthAdjust="spacingAndGlyphs">Hot</tspan> <tspan x="290.5" y="767.6" font-size="43.5" font-weight="bold" textLength="79.0" lengthAdjust="spacingAndGlyphs">spot</tspan></text>
<text x="386.0" y="767.6" font-size="43.8" font-weight="bold" textLength="107.5" lengthAdjust="spacingAndGlyphs">Drugs</text>
<text x="511.0" y="767.6" font-size="43.8" font-weight="bold" textLength="149.5" lengthAdjust="spacingAndGlyphs">Nicotine</text>
<text x="680.0" y="767.7" font-size="44.2" font-weight="bold" textLength="104.5" lengthAdjust="spacingAndGlyphs">Sugar</text>
<text x="810.5" y="767.7" font-size="44.2" font-weight="bold" textLength="120.5" lengthAdjust="spacingAndGlyphs">Alleles</text>
<text x="968.5" y="767.4" font-size="43.6" font-weight="bold" textLength="119.1" lengthAdjust="spacingAndGlyphs">Micro-</text>
<text x="957.5" y="814.7" font-size="42.3" font-weight="bold" textLength="139.6" lengthAdjust="spacingAndGlyphs">plastics</text>
<text><tspan x="94.4" y="814.7" font-size="40.1" font-weight="bold" textLength="18.7" lengthAdjust="spacingAndGlyphs">−</tspan><tspan x="114.9" y="814.7" font-size="40.4" font-weight="normal" stroke="#13201f" stroke-width="0.45" textLength="29.7" lengthAdjust="spacingAndGlyphs">11</tspan><tspan x="151.5" y="814.7" font-size="40.4" font-weight="normal" stroke="#13201f" stroke-width="0.45" textLength="49.6" lengthAdjust="spacingAndGlyphs">mV</tspan></text>
<text><tspan x="243.4" y="814.7" font-size="40.1" font-weight="bold" textLength="16.6" lengthAdjust="spacingAndGlyphs">−</tspan><tspan x="263.9" y="814.7" font-size="40.4" font-weight="normal" stroke="#13201f" stroke-width="0.45" textLength="21.3" lengthAdjust="spacingAndGlyphs">3</tspan> <tspan x="290.9" y="814.7" font-size="40.4" font-weight="normal" stroke="#13201f" stroke-width="0.45" textLength="51.1" lengthAdjust="spacingAndGlyphs">mV</tspan></text>
<text><tspan x="91.5" y="880.4" font-size="43.5" font-weight="normal" stroke="#13201f" stroke-width="0.45" textLength="47.5" lengthAdjust="spacingAndGlyphs">ΔV</tspan><tspan x="139.0" y="882.2" font-size="32.6" font-weight="normal" stroke="#13201f" stroke-width="0.45" textLength="94.6" lengthAdjust="spacingAndGlyphs">margin</tspan> <tspan x="243.0" y="880.4" font-size="41.7" font-weight="normal" stroke="#13201f" stroke-width="0.45" textLength="167.1" lengthAdjust="spacingAndGlyphs">reduction</tspan> <tspan x="421.8" y="880.4" font-size="41.7" font-weight="normal" stroke="#13201f" stroke-width="0.45" textLength="29.4" lengthAdjust="spacingAndGlyphs">in</tspan> <tspan x="460.5" y="880.4" font-size="41.7" font-weight="normal" stroke="#13201f" stroke-width="0.45" textLength="84.5" lengthAdjust="spacingAndGlyphs">vCA1</tspan> <tspan x="557.9" y="880.4" font-size="41.7" font-weight="normal" stroke="#13201f" stroke-width="0.45" textLength="38.1" lengthAdjust="spacingAndGlyphs">by</tspan> <tspan x="607.9" y="880.4" font-size="41.7" font-weight="normal" stroke="#13201f" stroke-width="0.45" textLength="115.2" lengthAdjust="spacingAndGlyphs">stress,</tspan> <tspan x="732.9" y="880.4" font-size="41.7" font-weight="normal" stroke="#13201f" stroke-width="0.45" textLength="54.6" lengthAdjust="spacingAndGlyphs">hot</tspan> <tspan x="798.5" y="880.4" font-size="41.7" font-weight="normal" stroke="#13201f" stroke-width="0.45" textLength="95.6" lengthAdjust="spacingAndGlyphs">spots</tspan> <tspan x="904.9" y="880.4" font-size="41.7" font-weight="normal" stroke="#13201f" stroke-width="0.45" textLength="66.2" lengthAdjust="spacingAndGlyphs">and</tspan> <tspan x="980.5" y="880.4" font-size="41.7" font-weight="normal" stroke="#13201f" stroke-width="0.45" textLength="230.1" lengthAdjust="spacingAndGlyphs">environment;</tspan></text>
<text><tspan x="91.5" y="933.2" font-size="41.7" font-weight="normal" stroke="#13201f" stroke-width="0.45" textLength="93.0" lengthAdjust="spacingAndGlyphs">when</tspan> <tspan x="191.3" y="933.2" font-size="41.7" font-weight="normal" stroke="#13201f" stroke-width="0.45" textLength="19.9" lengthAdjust="spacingAndGlyphs">&lt;</tspan> <tspan x="218.4" y="933.2" font-size="41.7" font-weight="normal" stroke="#13201f" stroke-width="0.45" textLength="20.8" lengthAdjust="spacingAndGlyphs">5</tspan> <tspan x="248.9" y="933.2" font-size="41.7" font-weight="normal" stroke="#13201f" stroke-width="0.45" textLength="65.3" lengthAdjust="spacingAndGlyphs">mV,</tspan> <tspan x="323.0" y="933.2" font-size="41.7" font-weight="normal" stroke="#13201f" stroke-width="0.45" textLength="143.0" lengthAdjust="spacingAndGlyphs">network</tspan> <tspan x="478.0" y="933.2" font-size="41.7" font-weight="normal" stroke="#13201f" stroke-width="0.45" textLength="192.0" lengthAdjust="spacingAndGlyphs">oscillations</tspan> <tspan x="682.5" y="933.2" font-size="41.7" font-weight="normal" stroke="#13201f" stroke-width="0.45" textLength="113.5" lengthAdjust="spacingAndGlyphs">trigger</tspan> <tspan x="808.5" y="933.2" font-size="41.7" font-weight="normal" stroke="#13201f" stroke-width="0.45" textLength="132.1" lengthAdjust="spacingAndGlyphs">engram</tspan> <tspan x="950.9" y="933.2" font-size="41.7" font-weight="normal" stroke="#13201f" stroke-width="0.45" textLength="115.7" lengthAdjust="spacingAndGlyphs">replay.</tspan></text>
</g>
</svg>
</body></html>
